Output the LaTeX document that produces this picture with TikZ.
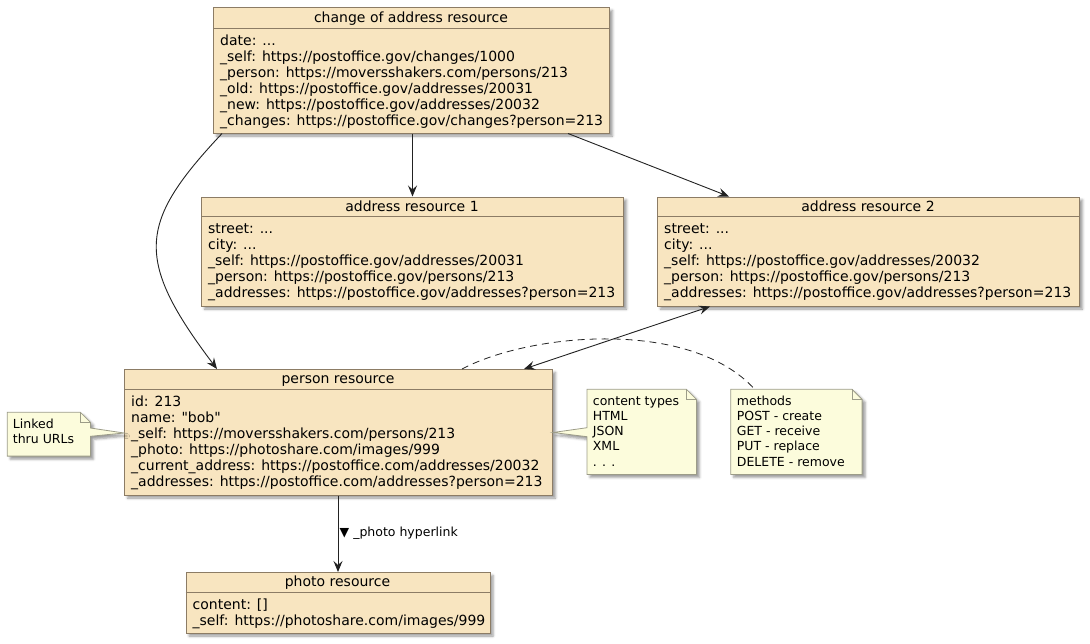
\documentclass[tikz,border=0pt]{standalone}
\usepackage{fontspec}
\setmainfont{DejaVu Sans}
\newfontfamily\plainfont{DejaVu Sans}[Mapping=]
\usetikzlibrary{arrows.meta,shadows.blur,calc}
\definecolor{boxfill}{HTML}{F8E5C0}
\definecolor{boxline}{HTML}{8C7C65}
\definecolor{notefill}{HTML}{FCFCDC}
\definecolor{noteline}{HTML}{9C9C88}
\definecolor{linkcol}{HTML}{222222}
\newcommand{\boxlines}[1]{\begin{tabular}[t]{@{}l@{}}#1\end{tabular}}
\tikzset{
  myshadow/.style={blur shadow={shadow xshift=3pt, shadow yshift=-3pt, shadow blur radius=2.5pt, shadow opacity=40}},
  objbox/.style={draw=boxline, fill=boxfill, line width=1pt, inner sep=0pt, anchor=north west, myshadow},
  objtitle/.style={anchor=base, inner sep=0pt, font=\fontsize{14}{16}\selectfont},
  objbody/.style={anchor=base west, inner sep=0pt, font=\fontsize{14}{16}\selectfont},
  sepline/.style={draw=boxline, line width=1pt},
  notearea/.style={inner sep=0pt, anchor=north west},
  notebox/.style={draw=noteline, fill=notefill, line width=0.8pt, line join=miter, myshadow},
  notefold/.style={draw=noteline, line width=0.8pt},
  notetext/.style={anchor=base west, inner sep=0pt, font=\fontsize{12.5}{15.25}\selectfont},
  link/.style={draw=linkcol, line width=0.9pt, -{Stealth[length=11pt,width=9pt,inset=4pt]}},
  dlink/.style={draw=linkcol, line width=0.9pt, {Stealth[length=11pt,width=9pt,inset=4pt]}-{Stealth[length=11pt,width=9pt,inset=4pt]}},
  dashlink/.style={draw=linkcol, line width=0.8pt, dash pattern=on 7pt off 5pt},
  lbl/.style={anchor=west, inner sep=0pt, font=\fontsize{12.5}{15}\selectfont},
}
\begin{document}
\begin{tikzpicture}[x=1pt,y=-1pt]
\useasboundingbox (0,0) rectangle (1090,643);

% change of address resource
\node[objbox, minimum width=396pt, minimum height=125.5pt] (chg) at (213,7) {};
\draw[sepline] ($(chg.north west)+(0,21)$) -- ($(chg.north east)+(0,21)$);
\node[objtitle] (chgT) at (411,22) {change of address resource};
\node[objbody] (chgB) at (220,45.5) {\boxlines{date: ...\\
\_self: https://postoffice.gov/changes/1000\\
\_person: https://moversshakers.com/persons/213\\
\_old: https://postoffice.gov/addresses/20031\\
\_new: https://postoffice.gov/addresses/20032\\
\_changes: https://postoffice.gov/changes?person=213}};

% address resource 1
\node[objbox, minimum width=422pt, minimum height=109pt] (a1) at (201,196.5) {};
\draw[sepline] ($(a1.north west)+(0,20)$) -- ($(a1.north east)+(0,20)$);
\node[objtitle] (a1T) at (412,211) {address resource 1};
\node[objbody] (a1B) at (208,233) {\boxlines{street: ...\\
city: ...\\
\_self: https://postoffice.gov/addresses/20031\\
\_person: https://postoffice.gov/persons/213\\
\_addresses: https://postoffice.gov/addresses?person=213}};

% address resource 2
\node[objbox, minimum width=422pt, minimum height=109pt] (a2) at (657,196.5) {};
\draw[sepline] ($(a2.north west)+(0,20)$) -- ($(a2.north east)+(0,20)$);
\node[objtitle] (a2T) at (868,211) {address resource 2};
\node[objbody] (a2B) at (664,233) {\boxlines{street: ...\\
city: ...\\
\_self: https://postoffice.gov/addresses/20032\\
\_person: https://postoffice.gov/persons/213\\
\_addresses: https://postoffice.gov/addresses?person=213}};

% person resource
\node[objbox, minimum width=428pt, minimum height=125.5pt] (per) at (124,369) {};
\draw[sepline] ($(per.north west)+(0,20.5)$) -- ($(per.north east)+(0,20.5)$);
\node[objtitle] (perT) at (338,383.5) {person resource};
\node[objbody] (perB) at (131,406) {\boxlines{id: 213\\
name: {\plainfont "bob"}\\
\_self: https://moversshakers.com/persons/213\\
\_photo: https://photoshare.com/images/999\\
\_current\_address: https://postoffice.com/addresses/20032\\
\_addresses: https://postoffice.com/addresses?person=213}};

% photo resource
\node[objbox, minimum width=304pt, minimum height=60.5pt] (ph) at (185.5,572) {};
\draw[sepline] ($(ph.north west)+(0,20.3)$) -- ($(ph.north east)+(0,20.3)$);
\node[objtitle] (phT) at (337.5,586.5) {photo resource};
\node[objbody] (phB) at (192.5,609) {\boxlines{content: []\\
\_self: https://photoshare.com/images/999}};

% note: Linked thru URLs
\node[notearea, minimum width=82.7pt, minimum height=43.4pt] (lnk) at (7.3,412.3) {};
\path[notebox] (lnk.north west) -- ($(lnk.north east)+(-10,0)$) -- ($(lnk.north east)+(0,10)$)
  -- ($(lnk.north east)+(0,15.7)$) -- ($(per.north west)+(0,64)$) -- ($(lnk.north east)+(0,24)$)
  -- (lnk.south east) -- (lnk.south west) -- cycle;
\draw[notefold] ($(lnk.north east)+(-10,0)$) |- ($(lnk.north east)+(0,10)$);
\node[notetext] (lnkT) at (12.7,428.3) {\boxlines{Linked\\thru URLs}};

% note: content types
\node[notearea, minimum width=109pt, minimum height=84.7pt] (cnt) at (587,389.3) {};
\path[notebox] (cnt.north west) -- ($(cnt.north east)+(-10,0)$) -- ($(cnt.north east)+(0,10)$)
  -- (cnt.south east) -- (cnt.south west) -- ($(cnt.north west)+(0,47.4)$)
  -- ($(per.north east)+(0,63.5)$) -- ($(cnt.north west)+(0,38.4)$) -- cycle;
\draw[notefold] ($(cnt.north east)+(-10,0)$) |- ($(cnt.north east)+(0,10)$);
\node[notetext] (cntT) at (592.7,405) {\boxlines{content types\\HTML\\JSON\\XML\\. . .}};

% note: methods
\node[notearea, minimum width=131pt, minimum height=84.7pt] (meth) at (730.7,389.3) {};
\path[notebox] (meth.north west) -- ($(meth.north east)+(-10,0)$) -- ($(meth.north east)+(0,10)$)
  -- (meth.south east) -- (meth.south west) -- cycle;
\draw[notefold] ($(meth.north east)+(-10,0)$) |- ($(meth.north east)+(0,10)$);
\node[notetext] (methT) at (736.7,405) {\boxlines{methods\\POST - create\\GET - receive\\PUT - replace\\DELETE - remove}};

% connectors
\draw[link] (chg.south -| a1.north) -- (a1.north);
\draw[link] ($(chg.south west)+(355,0)$) -- ($(a2.north west)+(72,0)$);
\draw[link] ($(chg.south west)+(9,0)$) .. controls (139,222) and (133,258) .. ($(per.north west)+(93,0)$);
\draw[dlink] ($(a2.south west)+(53,0)$) -- ($(per.north west)+(400,0)$);
\draw[dashlink] ($(per.north west)+(338,0)$) .. controls (530,333) and (690,318) .. ($(meth.north west)+(24,0)$);
\draw[link] (per.south -| ph.north) -- (ph.north);
\node[lbl] (phL) at (339.5,533) {▼ \_photo hyperlink};
\end{tikzpicture}
\end{document}
